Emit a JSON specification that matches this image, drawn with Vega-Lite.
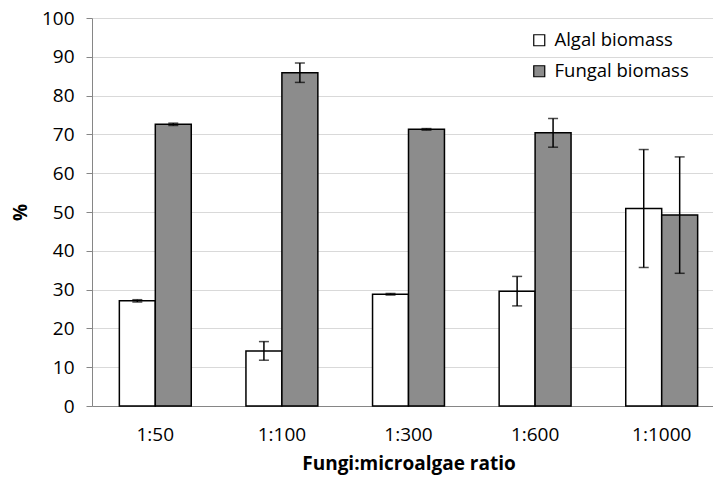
{
  "$schema": "https://vega.github.io/schema/vega-lite/v6.json",
  "autosize": "none",
  "width": 621,
  "height": 388,
  "padding": {"left": 92, "top": 18, "right": 0, "bottom": 72},
  "background": "white",
  "config": {
    "view": {"stroke": null},
    "font": "Open Sans",
    "axis": {"labelFont": "Open Sans", "titleFont": "Open Sans", "labelColor": "#000000", "titleColor": "#000000"},
    "axisY": {
      "labelFontSize": 19, "labelPadding": 12, "labelOverlap": false,
      "tickSize": 6, "tickColor": "#868686", "domainColor": "#868686",
      "gridColor": "#d9d9d9", "gridWidth": 1
    }
  },
  "data": {
    "values": [
      {"ratio": "1:50", "type": "Algal biomass", "value": 27.1, "lo": 26.8, "hi": 27.4},
      {"ratio": "1:50", "type": "Fungal biomass", "value": 72.6, "lo": 72.3, "hi": 72.9},
      {"ratio": "1:100", "type": "Algal biomass", "value": 14.2, "lo": 11.8, "hi": 16.6},
      {"ratio": "1:100", "type": "Fungal biomass", "value": 85.9, "lo": 83.4, "hi": 88.4},
      {"ratio": "1:300", "type": "Algal biomass", "value": 28.8, "lo": 28.6, "hi": 29.0},
      {"ratio": "1:300", "type": "Fungal biomass", "value": 71.3, "lo": 71.1, "hi": 71.5},
      {"ratio": "1:600", "type": "Algal biomass", "value": 29.6, "lo": 25.8, "hi": 33.4},
      {"ratio": "1:600", "type": "Fungal biomass", "value": 70.4, "lo": 66.7, "hi": 74.1},
      {"ratio": "1:1000", "type": "Algal biomass", "value": 50.9, "lo": 35.7, "hi": 66.1},
      {"ratio": "1:1000", "type": "Fungal biomass", "value": 49.2, "lo": 34.2, "hi": 64.2}
    ]
  },
  "encoding": {
    "x": {
      "field": "ratio", "type": "nominal",
      "sort": ["1:50", "1:100", "1:300", "1:600", "1:1000"],
      "scale": {"range": [0, 633], "paddingInner": 0.432, "paddingOuter": 0.216},
      "axis": {
        "title": "Fungi:microalgae ratio",
        "titleFontSize": 19, "titleFontWeight": "bold",
        "titleX": 316.5, "titleY": 63, "titleBaseline": "alphabetic", "titleAlign": "center", "titleAnchor": null,
        "labelAngle": 0, "labelFontSize": 19, "labelPadding": 19,
        "ticks": false, "domainColor": "#868686", "domainWidth": 1, "grid": false
      }
    },
    "xOffset": {"field": "type", "type": "nominal", "sort": ["Algal biomass", "Fungal biomass"]}
  },
  "layer": [
    {
      "mark": {"type": "bar", "stroke": "#000000", "strokeWidth": 1.5},
      "encoding": {
        "y": {
          "field": "value", "type": "quantitative",
          "scale": {"domain": [0, 100], "nice": false},
          "axis": {
            "title": "%", "titleFontSize": 19, "titleFontWeight": "bold",
            "titleX": -72, "titleY": 194, "titleAngle": -90, "titleBaseline": "middle", "titleAlign": "center", "titleAnchor": null,
            "values": [0, 10, 20, 30, 40, 50, 60, 70, 80, 90, 100]
          }
        },
        "fill": {
          "field": "type", "type": "nominal",
          "scale": {"domain": ["Algal biomass", "Fungal biomass"], "range": ["#ffffff", "#8c8c8c"]},
          "legend": {
            "title": null, "orient": "none", "legendX": 438, "legendY": 13,
            "symbolType": "square", "symbolSize": 121, "symbolStrokeColor": "#000000", "symbolStrokeWidth": 1.2,
            "labelFontSize": 18.5, "labelColor": "#000000", "labelOffset": 6, "rowPadding": 12, "padding": 0
          }
        }
      }
    },
    {
      "mark": {"type": "rule", "color": "#000000", "strokeWidth": 1.5},
      "encoding": {
        "y": {"field": "lo", "type": "quantitative", "axis": {"title": "%", "titleFontSize": 19, "titleFontWeight": "bold", "titleX": -72, "titleY": 194, "titleAngle": -90, "titleBaseline": "middle", "titleAlign": "center", "titleAnchor": null, "values": [0, 10, 20, 30, 40, 50, 60, 70, 80, 90, 100]}},
        "y2": {"field": "hi"}
      }
    },
    {
      "mark": {"type": "tick", "color": "#000000", "thickness": 1.5, "size": 10},
      "encoding": {"y": {"field": "lo", "type": "quantitative", "axis": {"title": "%", "titleFontSize": 19, "titleFontWeight": "bold", "titleX": -72, "titleY": 194, "titleAngle": -90, "titleBaseline": "middle", "titleAlign": "center", "titleAnchor": null, "values": [0, 10, 20, 30, 40, 50, 60, 70, 80, 90, 100]}}}
    },
    {
      "mark": {"type": "tick", "color": "#000000", "thickness": 1.5, "size": 10},
      "encoding": {"y": {"field": "hi", "type": "quantitative", "axis": {"title": "%", "titleFontSize": 19, "titleFontWeight": "bold", "titleX": -72, "titleY": 194, "titleAngle": -90, "titleBaseline": "middle", "titleAlign": "center", "titleAnchor": null, "values": [0, 10, 20, 30, 40, 50, 60, 70, 80, 90, 100]}}}
    }
  ]
}
